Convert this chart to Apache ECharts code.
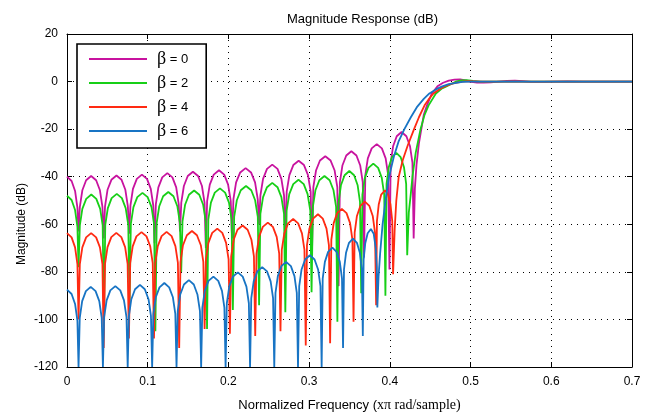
<!DOCTYPE html>
<html>
<head>
<meta charset="utf-8">
<script src="https://cdn.jsdelivr.net/npm/echarts@6/dist/echarts.min.js"></script>
<style>
html,body{margin:0;padding:0;background:#fff;}
#chart{width:645px;height:417px;}
</style>
</head>
<body>
<div id="chart"></div>
<script>
// ---------- data ----------
const seriesNames = ['β = 0', 'β = 2', 'β = 4', 'β = 6'];
const xTickLabels = ['0', '0.1', '0.2', '0.3', '0.4', '0.5', '0.6', '0.7'];
const yTickLabels = ['-120', '-100', '-80', '-60', '-40', '-20', '0', '20'];

const beta0Freq = [
 0, 0.0057, 0.01, 0.0129, 0.0143,
 0.0159, 0.019, 0.0237, 0.0299, 0.0361, 0.0408, 0.0439, 0.0455,
 0.0471, 0.0502, 0.055, 0.0613, 0.0676, 0.0723, 0.0754, 0.077,
 0.0786, 0.0817, 0.0865, 0.0928, 0.0991, 0.1038, 0.1069, 0.1085,
 0.1101, 0.1132, 0.118, 0.1243, 0.1306, 0.1353, 0.1384, 0.14,
 0.1416, 0.1448, 0.1496, 0.156, 0.1624, 0.1672, 0.1704, 0.172,
 0.1736, 0.1769, 0.1818, 0.1883, 0.1948, 0.1996, 0.2029, 0.2045,
 0.2062, 0.2095, 0.2146, 0.2213, 0.228, 0.233, 0.2363, 0.238,
 0.2396, 0.2429, 0.2478, 0.2543, 0.2608, 0.2656, 0.2689, 0.2705,
 0.2722, 0.2755, 0.2804, 0.287, 0.2936, 0.2986, 0.3019, 0.3035,
 0.3052, 0.3085, 0.3134, 0.32, 0.3266, 0.3316, 0.3349, 0.3365,
 0.3381, 0.3412, 0.346, 0.3523, 0.3586, 0.3633, 0.3664, 0.368,
 0.3696, 0.3727, 0.3775, 0.3838, 0.3901, 0.3948, 0.3979, 0.3995,
 0.401, 0.404, 0.4085, 0.4145, 0.4205, 0.425, 0.428, 0.4295,
 0.431, 0.433, 0.436, 0.439, 0.442, 0.446, 0.452, 0.459, 0.466, 0.473, 0.48, 0.487, 0.494,
 0.501, 0.508, 0.516, 0.525, 0.535, 0.545, 0.555, 0.565, 0.575, 0.59, 0.605, 0.62, 0.64, 0.7
];
const beta0Mag = [
 -40, -41.8, -46, -53, -63,
 -52.7, -45.7, -41.5, -39.7, -41.5, -45.7, -52.7, -66,
 -52.5, -45.5, -41.3, -39.5, -41.3, -45.5, -52.5, -64,
 -52.1, -45.1, -40.9, -39.1, -40.9, -45.1, -52.1, -68,
 -51.5, -44.5, -40.3, -38.5, -40.3, -44.5, -51.5, -63,
 -50.9, -43.9, -39.7, -37.9, -39.7, -43.9, -50.9, -70,
 -50.3, -43.3, -39.1, -37.3, -39.1, -43.3, -50.3, -66,
 -49.4, -42.4, -38.2, -36.4, -38.2, -42.4, -49.4, -60,
 -47.9, -40.9, -36.7, -34.9, -36.7, -40.9, -47.9, -66,
 -46.3, -39.3, -35.1, -33.3, -35.1, -39.3, -46.3, -72,
 -44.4, -37.4, -33.2, -31.4, -33.2, -37.4, -44.4, -86,
 -42.3, -35.3, -31.1, -29.3, -31.1, -35.3, -42.3, -74,
 -39.3, -32.3, -28.1, -26.3, -28.1, -32.3, -39.3, -79,
 -34.2, -27.2, -23, -21.2, -23, -27.2, -34.2, -66,
 -45, -35, -26, -20, -14, -10, -5, -2, -0.5, 0.4, 0.8, 0.9, 0.5,
 -0.1, -0.4, -0.45, -0.3, 0, 0.3, 0.35, 0.15, -0.1, -0.15, 0, 0.1, 0, 0
];

const beta2Freq = [
 0, 0.0057, 0.01, 0.0129, 0.0143,
 0.0159, 0.019, 0.0238, 0.0301, 0.0363, 0.0411, 0.0442, 0.0458,
 0.0474, 0.0506, 0.0553, 0.0617, 0.068, 0.0727, 0.0759, 0.0775,
 0.0791, 0.0823, 0.0871, 0.0935, 0.0999, 0.1047, 0.1079, 0.1095,
 0.1111, 0.1143, 0.1191, 0.1255, 0.1319, 0.1367, 0.1399, 0.1415,
 0.1431, 0.1463, 0.1511, 0.1575, 0.1639, 0.1687, 0.1719, 0.1735,
 0.1751, 0.1783, 0.1831, 0.1895, 0.1959, 0.2007, 0.2039, 0.2055,
 0.2071, 0.2104, 0.2153, 0.2218, 0.2283, 0.2331, 0.2364, 0.238,
 0.2396, 0.2429, 0.2478, 0.2543, 0.2608, 0.2656, 0.2689, 0.2705,
 0.2721, 0.2754, 0.2803, 0.2868, 0.2933, 0.2981, 0.3014, 0.303,
 0.3046, 0.3078, 0.3126, 0.319, 0.3254, 0.3302, 0.3334, 0.335,
 0.3365, 0.3394, 0.3439, 0.3498, 0.3557, 0.3601, 0.363, 0.3645,
 0.366, 0.369, 0.3735, 0.3795, 0.3855, 0.39, 0.393, 0.3945,
 0.3959, 0.3986, 0.4026, 0.408, 0.4134, 0.4175, 0.4202, 0.4215,
 0.4235, 0.426, 0.428, 0.432, 0.438, 0.443, 0.448, 0.457, 0.464, 0.47, 0.476, 0.482, 0.488,
 0.495, 0.503, 0.512, 0.7
];
const beta2Mag = [
 -48, -49.8, -54, -61, -78,
 -60.5, -53.5, -49.3, -47.5, -49.3, -53.5, -60.5, -100,
 -60.2, -53.2, -49, -47.2, -49, -53.2, -60.2, -93,
 -59.8, -52.8, -48.6, -46.8, -48.6, -52.8, -59.8, -105,
 -59.4, -52.4, -48.2, -46.4, -48.2, -52.4, -59.4, -80,
 -58.8, -51.8, -47.6, -45.8, -47.6, -51.8, -58.8, -104,
 -57.9, -50.9, -46.7, -44.9, -46.7, -50.9, -57.9, -96,
 -56.9, -49.9, -45.7, -43.9, -45.7, -49.9, -56.9, -94,
 -55.6, -48.6, -44.4, -42.6, -44.4, -48.6, -55.6, -97,
 -54.3, -47.3, -43.1, -41.3, -43.1, -47.3, -54.3, -88.6,
 -52.7, -45.7, -41.5, -39.7, -41.5, -45.7, -52.7, -101,
 -50.6, -43.6, -39.4, -37.6, -39.4, -43.6, -50.6, -89,
 -47.5, -40.5, -36.3, -34.5, -36.3, -40.5, -47.5, -90,
 -43, -36, -31.8, -30, -31.8, -36, -43, -73,
 -55, -47, -40, -30, -20, -14, -10, -5, -3, -2, -1, 0, 0.5,
 0.6, 0.3, 0, 0
];

const beta4Freq = [
 0, 0.0057, 0.01, 0.0129, 0.0143,
 0.0159, 0.019, 0.0237, 0.0299, 0.0361, 0.0408, 0.0439, 0.0455,
 0.0471, 0.0502, 0.0549, 0.0611, 0.0673, 0.072, 0.0751, 0.0767,
 0.0783, 0.0814, 0.086, 0.0923, 0.0985, 0.1031, 0.1062, 0.1078,
 0.1094, 0.1125, 0.1172, 0.1234, 0.1296, 0.1343, 0.1374, 0.139,
 0.1406, 0.1437, 0.1485, 0.1548, 0.161, 0.1658, 0.1689, 0.1705,
 0.1721, 0.1752, 0.1799, 0.1862, 0.1924, 0.1971, 0.2002, 0.2018,
 0.2034, 0.2065, 0.2112, 0.2175, 0.2238, 0.2285, 0.2316, 0.2332,
 0.2348, 0.2379, 0.2426, 0.2488, 0.2551, 0.2598, 0.2629, 0.2645,
 0.2661, 0.2692, 0.2739, 0.2802, 0.2864, 0.2911, 0.2942, 0.2958,
 0.2973, 0.3003, 0.3049, 0.3109, 0.3169, 0.3215, 0.3245, 0.326,
 0.3275, 0.3304, 0.3347, 0.3405, 0.3463, 0.3507, 0.3536, 0.355,
 0.3564, 0.3592, 0.3634, 0.369, 0.3746, 0.3788, 0.3816, 0.383,
 0.384, 0.3862, 0.3893, 0.394, 0.3977, 0.4008, 0.403, 0.404,
 0.406, 0.408, 0.411, 0.416, 0.422, 0.43, 0.436, 0.443, 0.448, 0.454, 0.461, 0.468, 0.476,
 0.483, 0.49, 0.497, 0.505, 0.515, 0.7
];
const beta4Mag = [
 -63.7, -65.5, -69.7, -76.7, -100,
 -76.7, -69.7, -65.5, -63.7, -65.5, -69.7, -76.7, -112,
 -76.6, -69.6, -65.4, -63.6, -65.4, -69.6, -76.6, -108,
 -76.3, -69.3, -65.1, -63.3, -65.1, -69.3, -76.3, -108,
 -76.2, -69.2, -65, -63.2, -65, -69.2, -76.2, -112,
 -75.8, -68.8, -64.6, -62.8, -64.6, -68.8, -75.8, -104,
 -74.8, -67.8, -63.6, -61.8, -63.6, -67.8, -74.8, -106,
 -73.5, -66.5, -62.3, -60.5, -62.3, -66.5, -73.5, -107,
 -72.3, -65.3, -61.1, -59.3, -61.1, -65.3, -72.3, -105,
 -70.8, -63.8, -59.6, -57.8, -59.6, -63.8, -70.8, -111,
 -68.8, -61.8, -57.6, -55.8, -57.6, -61.8, -68.8, -110,
 -66.5, -59.5, -55.3, -53.5, -55.3, -59.5, -66.5, -101,
 -63.5, -56.5, -52.3, -50.5, -52.3, -56.5, -63.5, -94,
 -58.7, -51.7, -47.5, -45.7, -47.5, -51.7, -58.7, -81,
 -62, -50, -40, -33, -27, -20, -15, -10, -7.5, -5, -3.3, -2, -1,
 -0.4, 0, 0.15, 0.1, 0, 0
];

const beta6Freq = [
 0, 0.0057, 0.01, 0.0129, 0.0143,
 0.0158, 0.0188, 0.0234, 0.0294, 0.0354, 0.04, 0.043, 0.0445,
 0.046, 0.0491, 0.0537, 0.0599, 0.066, 0.0706, 0.0737, 0.0752,
 0.0767, 0.0797, 0.0843, 0.0904, 0.0964, 0.101, 0.104, 0.1055,
 0.107, 0.11, 0.1146, 0.1206, 0.1266, 0.1312, 0.1342, 0.1357,
 0.1372, 0.1403, 0.1449, 0.151, 0.1571, 0.1616, 0.1647, 0.1662,
 0.1677, 0.1707, 0.1753, 0.1814, 0.1874, 0.192, 0.195, 0.1965,
 0.198, 0.201, 0.2056, 0.2117, 0.2177, 0.2223, 0.2253, 0.2268,
 0.2283, 0.2313, 0.2358, 0.2418, 0.2478, 0.2523, 0.2553, 0.2568,
 0.2583, 0.2612, 0.2656, 0.2715, 0.2774, 0.2818, 0.2847, 0.2862,
 0.2877, 0.2906, 0.295, 0.3009, 0.3067, 0.3111, 0.314, 0.3155,
 0.3168, 0.3195, 0.3235, 0.3288, 0.334, 0.338, 0.3407, 0.342,
 0.3432, 0.3457, 0.3494, 0.3543, 0.3592, 0.3628, 0.3653, 0.3665,
 0.3675, 0.3695, 0.3725, 0.3765, 0.38, 0.3825, 0.3838, 0.3845,
 0.386, 0.388, 0.391, 0.395, 0.399, 0.405, 0.411, 0.418, 0.426, 0.434, 0.442, 0.449, 0.457,
 0.465, 0.473, 0.482, 0.49, 0.5, 0.7
];
const beta6Mag = [
 -87.5, -89.3, -93.5, -100.5, -120,
 -99.3, -92.3, -88.1, -86.3, -88.1, -92.3, -99.3, -120,
 -99, -92, -87.8, -86, -87.8, -92, -99, -120,
 -98.5, -91.5, -87.3, -85.5, -87.3, -91.5, -98.5, -120,
 -97.7, -90.7, -86.5, -84.7, -86.5, -90.7, -97.7, -120,
 -96.5, -89.5, -85.3, -83.5, -85.3, -89.5, -96.5, -120,
 -95, -88, -83.8, -82, -83.8, -88, -95, -120,
 -93.2, -86.2, -82, -80.2, -82, -86.2, -93.2, -120,
 -91, -84, -79.8, -78, -79.8, -84, -91, -120,
 -88.8, -81.8, -77.6, -75.8, -77.6, -81.8, -88.8, -120,
 -86, -79, -74.8, -73, -74.8, -79, -86, -120,
 -82.8, -75.8, -71.6, -69.8, -71.6, -75.8, -82.8, -112,
 -79, -72, -67.8, -66, -67.8, -72, -79, -107,
 -75, -68, -63.8, -62, -64, -70, -78, -95,
 -82, -72, -60, -49, -40, -31.5, -25, -20, -15, -10.5, -7.3, -5, -3.3,
 -2, -1.1, -0.5, -0.15, 0, 0
];

const seriesColors = ['#c8139f', '#17cf17', '#ff2a12', '#1874c4'];
// ------------------------------------------------------------

const freqs = [beta0Freq, beta2Freq, beta4Freq, beta6Freq];
const mags = [beta0Mag, beta2Mag, beta4Mag, beta6Mag];

const SANS = '"Liberation Sans", Arial, sans-serif';
const SERIF = '"Liberation Serif", "Times New Roman", serif';

const chart = echarts.init(document.getElementById('chart'), null, {renderer: 'canvas'});

const axisCommonX = {
  type: 'value', min: 0, max: 0.7, interval: 0.1,
  axisLine: {show: true, onZero: false, lineStyle: {color: '#000', width: 1}},
  axisTick: {show: true, inside: true, length: 5, lineStyle: {color: '#000', width: 1}}
};
const axisCommonY = {
  type: 'value', min: -120, max: 20, interval: 20,
  axisLine: {show: true, onZero: false, lineStyle: {color: '#000', width: 1}},
  axisTick: {show: true, inside: true, length: 5, lineStyle: {color: '#000', width: 1}}
};

const option = {
  animation: false,
  backgroundColor: '#ffffff',
  title: {
    text: 'Magnitude Response (dB)',
    left: 282, top: 8,
    textStyle: {fontSize: 13, fontWeight: 'normal', color: '#000', fontFamily: SANS}
  },
  grid: {left: 67, right: 13, top: 34, bottom: 40},
  legend: {
    orient: 'vertical', left: 77, top: 44,
    padding: [6, 18, 8, 12], itemGap: 6, itemWidth: 58, itemHeight: 2,
    icon: 'rect',
    backgroundColor: '#fff', borderColor: '#000', borderWidth: 1.6, borderRadius: 0,
    data: seriesNames,
    formatter: function (name) {
      return '{b|β}{t| = ' + name.split('= ')[1] + '}';
    },
    textStyle: {
      padding: [0, 0, 0, 5],
      rich: {
        b: {fontFamily: SERIF, fontSize: 18, color: '#000', lineHeight: 18},
        t: {fontFamily: SANS, fontSize: 13, color: '#000', lineHeight: 18}
      }
    }
  },
  xAxis: [
    Object.assign({}, axisCommonX, {
      position: 'bottom',
      axisLabel: {color: '#000', fontSize: 12, fontFamily: SANS, margin: 9,
        formatter: function (v) { return xTickLabels[Math.round(v * 10)]; }},
      splitLine: {show: true, lineStyle: {color: '#000', width: 1, type: [1, 5]}},
      name: '{a|Normalized Frequency (}{s|xπ rad/sample)}',
      nameLocation: 'middle', nameGap: 31,
      nameTextStyle: {
        rich: {
          a: {fontFamily: SANS, fontSize: 13, color: '#000'},
          s: {fontFamily: SERIF, fontSize: 14, color: '#000'}
        }
      }
    }),
    Object.assign({}, axisCommonX, {
      position: 'top', axisLabel: {show: false}, splitLine: {show: false}
    })
  ],
  yAxis: [
    Object.assign({}, axisCommonY, {
      position: 'left',
      axisLabel: {color: '#000', fontSize: 12, fontFamily: SANS, margin: 9,
        formatter: function (v) { return yTickLabels[Math.round((v + 120) / 20)]; }},
      splitLine: {show: true, lineStyle: {color: '#000', width: 1, type: [1, 5]}}
    }),
    Object.assign({}, axisCommonY, {
      position: 'right', axisLabel: {show: false}, splitLine: {show: false}
    })
  ],
  graphic: [{
    type: 'text', x: 22, y: 224, rotation: Math.PI / 2,
    style: {text: 'Magnitude (dB)', font: '12px ' + SANS, fill: '#000',
      align: 'center', verticalAlign: 'middle'}
  }],
  series: seriesNames.map(function (name, k) {
    return {
      name: name, type: 'line', xAxisIndex: 0, yAxisIndex: 0,
      symbol: 'none', showSymbol: false, clip: true,
      lineStyle: {color: seriesColors[k], width: 1.8},
      itemStyle: {color: seriesColors[k]},
      data: freqs[k].map(function (f, i) { return [f, mags[k][i]]; })
    };
  })
};
chart.setOption(option);
</script>
</body>
</html>
